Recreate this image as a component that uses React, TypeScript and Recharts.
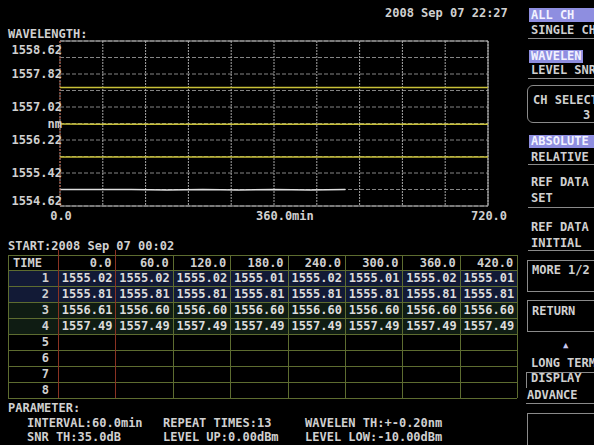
import React from "react";
import { LineChart, Line, XAxis, YAxis, CartesianGrid, ReferenceLine } from "recharts";

// 13 samples, one every 60 min (REPEAT TIMES:13)
const times = [0, 60, 120, 180, 240, 300, 360, 420, 480, 540, 600, 660, 720];
const ch1 = [1555.02, 1555.02, 1555.02, 1555.01, 1555.02, 1555.01, 1555.02, 1555.01, 1555.02, null, null, null, null];
const ch2 = [1555.81, 1555.81, 1555.81, 1555.81, 1555.81, 1555.81, 1555.81, 1555.81, 1555.81, 1555.81, 1555.81, 1555.81, 1555.81];
const ch3 = [1556.61, 1556.6, 1556.6, 1556.6, 1556.6, 1556.6, 1556.6, 1556.6, 1556.6, 1556.6, 1556.6, 1556.6, 1556.6];
const ch4 = [1557.49, 1557.49, 1557.49, 1557.49, 1557.49, 1557.49, 1557.49, 1557.49, 1557.49, 1557.49, 1557.49, 1557.49, 1557.49];

const yTicks = [1554.62, 1555.02, 1555.42, 1555.82, 1556.22, 1556.62, 1557.02, 1557.42, 1557.82, 1558.22, 1558.62];
const yTickLabels = ["1554.62", "", "1555.42", "", "1556.22", "nm", "1557.02", "", "1557.82", "", "1558.62"];
const xTicks = [0, 72, 144, 216, 288, 360, 432, 504, 576, 648, 720];
const xTickLabels = ["0.0", "", "", "", "", "360.0min", "", "", "", "", "720.0"];

const tableTimes = ["0.0", "60.0", "120.0", "180.0", "240.0", "300.0", "360.0", "420.0"];
const tableRows = ["1", "2", "3", "4", "5", "6", "7", "8"];

const data = times.map((t, i) => ({ t, ch1: ch1[i], ch2: ch2[i], ch3: ch3[i], ch4: ch4[i] }));
const tableValues = [ch1, ch2, ch3, ch4].map((c) => c.slice(0, 8).map((v) => (v as number).toFixed(2)));

const FONT = "'DejaVu Sans Mono', monospace";
const TXT = "#d0d0d0";
const GRN = "#5d6c30";
const RED = "#8a3222";
const GRAY = "#8a8a8a";
const HL = "#8e8ee0";

const T = ({ x, y, children, color = TXT, size = 12 }: any) => (
  <div style={{ position: "absolute", left: x, top: y - 7, fontFamily: FONT, fontSize: size, fontWeight: "bold", lineHeight: "14px", color, whiteSpace: "pre" }}>
    {children}
  </div>
);

const Box = ({ x, y, w, h, bg, border, radius = 0 }: any) => (
  <div style={{ position: "absolute", left: x, top: y, width: w, height: h, background: bg, border: border ? `1px solid ${border}` : undefined, borderRadius: radius, boxSizing: "border-box" }} />
);

const YTick = (props: any) => {
  const { x, y, index } = props;
  const label = yTickLabels[index];
  if (!label) return null;
  let dy = 4;
  if (index === yTicks.length - 1) dy = 13;
  if (index === 0) dy = -1;
  return (
    <text x={x + 2} y={y + dy} textAnchor="end" fontFamily={FONT} fontSize={12} fontWeight="bold" fill={TXT}>
      {label}
    </text>
  );
};

const XTick = (props: any) => {
  const { x, y, index } = props;
  const label = xTickLabels[index];
  if (!label) return null;
  const mid = index === 5;
  return (
    <text x={mid ? x - 18 : x + 1} y={y + 14} textAnchor={mid ? "start" : "middle"} fontFamily={FONT} fontSize={12} fontWeight="bold" fill={TXT}>
      {label}
    </text>
  );
};

function Table() {
  const left = 8;
  const timeW = 50;
  const colW = 57.4;
  const top = 255;
  const headH = 15;
  const rowH = 16;
  const right = left + timeW + colW * 8;
  const bottom = top + headH + rowH * 8;
  const cell = { position: "absolute", fontFamily: FONT, fontSize: 12, fontWeight: "bold", lineHeight: "14px", textAlign: "right" } as any;
  const els: any[] = [];
  ["#121a36", "#121a36", "#0f1c13", "#0f1c13"].forEach((bg, i) => {
    els.push(<Box key={"bg" + i} x={left} y={top + headH + i * rowH} w={right - left} h={rowH} bg={bg} />);
  });
  for (let i = 0; i <= 9; i++) {
    const yy = i === 0 ? top : top + headH + (i - 1) * rowH;
    els.push(<div key={"h" + i} style={{ position: "absolute", left, top: yy, width: right - left, height: 1, background: GRN }} />);
  }
  for (let j = 0; j <= 9; j++) {
    const xx = j === 0 ? left : left + timeW + (j - 1) * colW;
    const red = j === 1 || j === 2;
    els.push(
      <div key={"v" + j} style={{ position: "absolute", left: xx, top: red ? top - 5 : top, width: 1, height: bottom - top + (red ? 5 : 0), background: red ? RED : GRN }} />
    );
  }
  els.push(<T key="time" x={left + 5} y={top + 8}>TIME</T>);
  tableTimes.forEach((tt, j) => {
    els.push(
      <div key={"ht" + j} style={{ ...cell, left: left + timeW + j * colW, top: top + 1, width: colW - 4, color: TXT }}>
        {tt}
      </div>
    );
  });
  tableRows.forEach((r, i) => {
    const ry = top + headH + i * rowH;
    els.push(
      <div key={"r" + i} style={{ ...cell, left, top: ry + 1, width: timeW - 9, color: TXT }}>
        {r}
      </div>
    );
    const vals = tableValues[i];
    if (vals) {
      vals.forEach((v, j) => {
        els.push(
          <div key={"c" + i + "-" + j} style={{ ...cell, left: left + timeW + j * colW, top: ry + 1, width: colW - 3, color: "#dcdcdc" }}>
            {v}
          </div>
        );
      });
    }
  });
  return <>{els}</>;
}

function Menu() {
  const x = 528;
  const line = (y: number, k: string) => <div key={k} style={{ position: "absolute", left: x, top: y, width: 70, height: 1, background: GRAY }} />;
  return (
    <>
      <Box x={529} y={8} w={70} h={14} bg={HL} />
      <T x={531} y={15} color="#f2f2ff">ALL CH</T>
      <T x={531} y={30}>SINGLE CH</T>
      {line(38, "l1")}
      <Box x={529} y={50} w={54} h={13} bg={HL} />
      <T x={531} y={56} color="#f2f2ff">WAVELEN</T>
      <T x={531} y={70}>LEVEL SNR</T>
      {line(78, "l2")}
      <Box x={527} y={85} w={80} h={38} border={GRAY} radius={6} />
      <T x={533} y={100}>CH SELECT</T>
      <T x={583} y={115}>3</T>
      <Box x={529} y={135} w={70} h={13} bg={HL} />
      <T x={531} y={141} color="#f2f2ff">ABSOLUTE</T>
      <T x={531} y={157}>RELATIVE</T>
      {line(164, "l3")}
      <T x={531} y={182}>REF DATA</T>
      <T x={531} y={198}>SET</T>
      {line(207, "l4")}
      <T x={531} y={227}>REF DATA</T>
      <T x={531} y={243}>INITIAL</T>
      {line(250, "l5")}
      <Box x={527} y={260} w={80} h={32} border={GRAY} />
      <T x={532} y={270}>MORE 1/2</T>
      <Box x={527} y={300} w={80} h={32} border={GRAY} />
      <T x={532} y={311}>RETURN</T>
      <T x={563} y={345} size={9} color="#c8c8f0">▲</T>
      <T x={531} y={363}>LONG TERM</T>
      <div style={{ position: "absolute", left: 526, top: 372, width: 70, height: 1, background: GRAY }} />
      <div style={{ position: "absolute", left: 526, top: 372, width: 1, height: 16, background: GRAY }} />
      <T x={531} y={378}>DISPLAY</T>
      <T x={527} y={395}>ADVANCE</T>
      <div style={{ position: "absolute", left: 526, top: 403, width: 70, height: 1, background: GRAY }} />
      <Box x={527} y={413} w={80} h={40} border={GRAY} />
    </>
  );
}

export default function App() {
  return (
    <div style={{ position: "absolute", left: 0, top: 0, width: 594, height: 445, background: "#000", overflow: "hidden" }}>
      <T x={385} y={13}>2008 Sep 07 22:27</T>
      <T x={8} y={34}>WAVELENGTH:</T>
      <div style={{ position: "absolute", left: 0, top: 0 }}>
        <LineChart width={594} height={230} data={data} margin={{ top: 41, right: 106, bottom: 0, left: 0 }}>
          <CartesianGrid horizontal vertical={false} stroke="#858585" strokeDasharray="4 2" horizontalValues={yTicks} />
          <CartesianGrid horizontal={false} vertical stroke="#a6a6a6" strokeDasharray="2 1" verticalValues={xTicks} />
          <XAxis
            dataKey="t"
            type="number"
            domain={[0, 720]}
            ticks={xTicks}
            height={24}
            tickSize={0}
            tickMargin={0}
            tickLine={false}
            interval={0}
            axisLine={{ stroke: "#b4b4b4" }}
            tick={<XTick />}
          />
          <YAxis
            type="number"
            domain={[1554.62, 1558.62]}
            ticks={yTicks}
            width={60}
            tickSize={0}
            tickMargin={0}
            tickLine={false}
            interval={0}
            allowDataOverflow
            axisLine={{ stroke: "#b0442a", strokeDasharray: "2 2" }}
            tick={<YTick />}
          />
          <ReferenceLine y={1558.62} stroke="#b4b4b4" />
          <ReferenceLine x={720} stroke="#b4b4b4" />
          <Line dataKey="ch1" stroke="#dedede" strokeWidth={1.5} dot={false} isAnimationActive={false} connectNulls={false} />
          <Line dataKey="ch2" stroke="#c8c038" strokeWidth={1.5} dot={false} isAnimationActive={false} />
          <Line dataKey="ch3" stroke="#c8c038" strokeWidth={1.5} dot={false} isAnimationActive={false} />
          <Line dataKey="ch4" stroke="#c8c038" strokeWidth={1.5} dot={false} isAnimationActive={false} />
        </LineChart>
      </div>
      <T x={8} y={246}>START:2008 Sep 07 00:02</T>
      <Table />
      <T x={8} y={408}>PARAMETER:</T>
      <T x={27} y={423}>INTERVAL:60.0min</T>
      <T x={163} y={423}>REPEAT TIMES:13</T>
      <T x={305} y={423}>WAVELEN TH:+-0.20nm</T>
      <T x={27} y={437}>SNR TH:35.0dB</T>
      <T x={163} y={437}>LEVEL UP:0.00dBm</T>
      <T x={305} y={437}>LEVEL LOW:-10.00dBm</T>
      <Menu />
    </div>
  );
}
